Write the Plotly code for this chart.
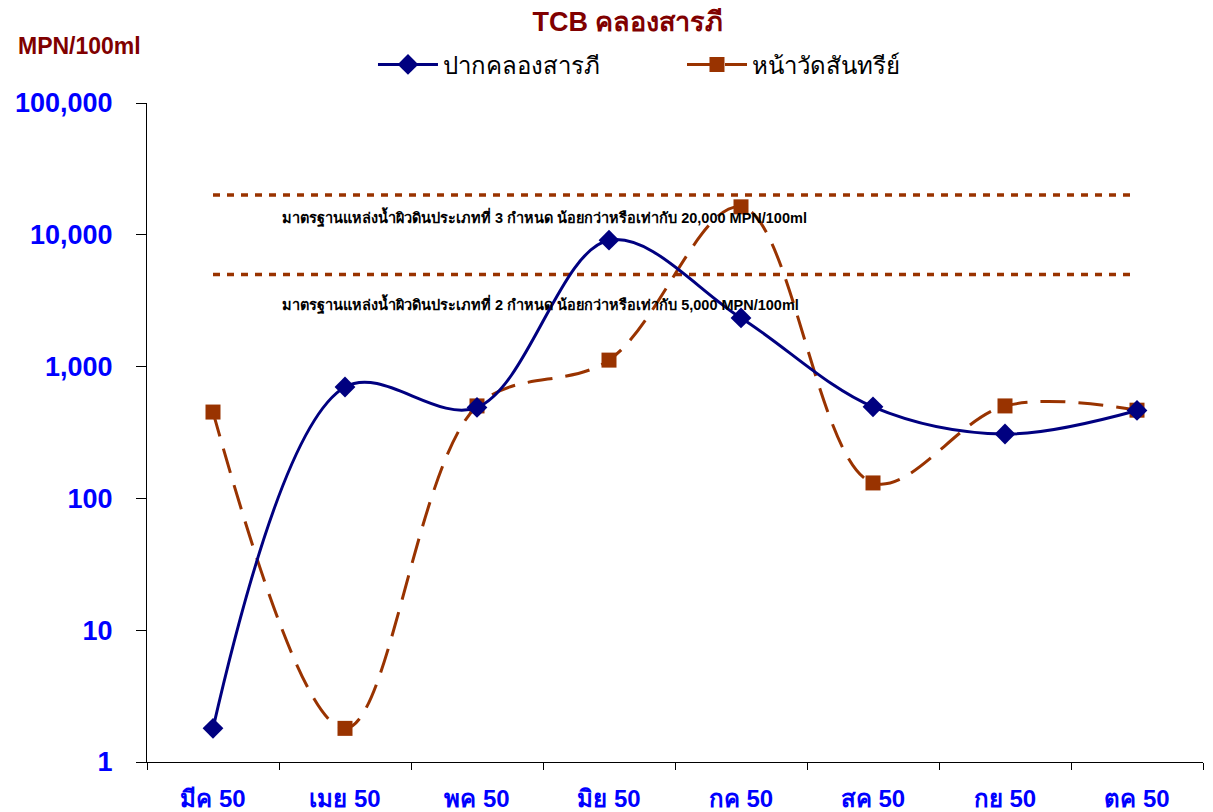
import plotly.graph_objects as go

months = ["มีค 50", "เมย 50", "พค 50", "มิย 50", "กค 50", "สค 50", "กย 50", "ตค 50"]
pak_klong = [1.8, 700, 490, 9100, 2340, 495, 308, 465]
na_wat = [452, 1.8, 503, 1120, 16300, 131, 503, 467]
std_class3 = 20000
std_class2 = 5000
ytick_vals = [1, 10, 100, 1000, 10000, 100000]
ytick_text = ["1", "10", "100", "1,000", "10,000", "100,000"]

NAVY = "#000080"
BROWN = "#993300"
DARKRED = "#800000"

fig = go.Figure()

fig.add_trace(go.Scatter(
    x=[months[0], months[-1]], y=[std_class3, std_class3], mode="lines",
    line=dict(color=BROWN, width=3.5, dash="7px,7px"), showlegend=False, hoverinfo="skip"))
fig.add_trace(go.Scatter(
    x=[months[0], months[-1]], y=[std_class2, std_class2], mode="lines",
    line=dict(color=BROWN, width=3.5, dash="7px,7px"), showlegend=False, hoverinfo="skip"))

fig.add_trace(go.Scatter(
    x=months, y=na_wat, mode="lines+markers", name="หน้าวัดสันทรีย์",
    line=dict(color=BROWN, width=3, shape="spline", smoothing=1.0, dash="25px,13px"),
    marker=dict(symbol="square", size=15, color=BROWN)))

fig.add_trace(go.Scatter(
    x=months, y=pak_klong, mode="lines+markers", name="ปากคลองสารภี",
    line=dict(color=NAVY, width=3, shape="spline", smoothing=1.0),
    marker=dict(symbol="diamond", size=16, color=NAVY)))

fig.update_layout(
    width=1205, height=804,
    paper_bgcolor="white", plot_bgcolor="white",
    margin=dict(l=139, r=10, t=95, b=50, autoexpand=False),
    font=dict(family="Arial, Liberation Sans, sans-serif", color="black"),
    title=dict(text="<b>TCB คลองสารภี</b>", x=0.5145, xanchor="center", y=0.9826, yanchor="middle",
               font=dict(size=27, color=DARKRED)),
    legend=dict(orientation="h", x=0.214, xanchor="left", y=1.058, yanchor="middle",
                font=dict(size=24, color="black"), traceorder="reversed",
                itemwidth=60, entrywidth=234, bgcolor="rgba(0,0,0,0)"),
    showlegend=True,
)

fig.update_xaxes(
    type="category", categoryorder="array", categoryarray=months,
    range=[-0.5, 7.5], showline=True, linecolor="black", linewidth=1,
    ticks="outside", ticklen=7, tickcolor="black", tickson="boundaries",
    showgrid=False, zeroline=False, automargin=False, ticklabelstandoff=15,
    tickvals=months, ticktext=["<b>%s</b>" % m for m in months],
    tickfont=dict(size=24, color="#0000FF", family="Arial, Liberation Sans"),
)
fig.update_yaxes(
    type="log", range=[0, 5], showline=True, linecolor="black", linewidth=1,
    ticks="outside", ticklen=10, tickcolor="black", automargin=False, ticklabelstandoff=18,
    tickvals=ytick_vals, ticktext=["<b>%s</b>" % t for t in ytick_text],
    showgrid=False, zeroline=False,
    tickfont=dict(size=27, color="#0000FF", family="Arial, Liberation Sans"),
)

fig.add_annotation(text="<b>MPN/100ml</b>", xref="paper", yref="paper",
                   x=-0.124, xanchor="left", y=1.087, yanchor="middle", showarrow=False,
                   font=dict(size=23, color=DARKRED, family="Arial, Liberation Sans"))
fig.add_annotation(text="<b>มาตรฐานแหล่งน้ำผิวดินประเภทที่ 3 กำหนด น้อยกว่าหรือเท่ากับ 20,000 MPN/100ml</b>",
                   xref="paper", yref="paper", x=0.126, xanchor="left", y=0.8255, yanchor="middle",
                   showarrow=False, font=dict(size=14.5, color="black"))
fig.add_annotation(text="<b>มาตรฐานแหล่งน้ำผิวดินประเภทที่ 2 กำหนด น้อยกว่าหรือเท่ากับ 5,000 MPN/100ml</b>",
                   xref="paper", yref="paper", x=0.126, xanchor="left", y=0.6935, yanchor="middle",
                   showarrow=False, font=dict(size=14.5, color="black"))

fig.write_html("out.html")
